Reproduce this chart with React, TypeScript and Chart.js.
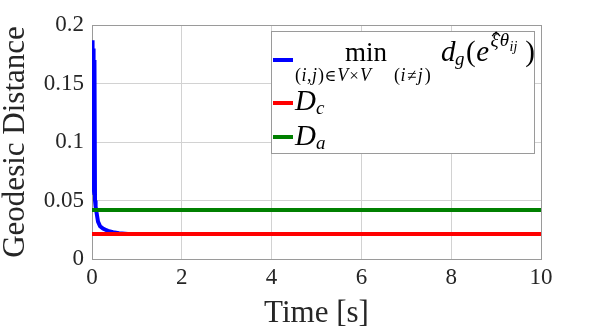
import React, { useEffect, useRef } from "react";
import { Chart, registerables } from "chart.js";

Chart.register(...registerables);

// ---- data ----
const blueTimes = [0, 0.005, 0.01, 0.015, 0.02, 0.025, 0.03, 0.035, 0.04, 0.045, 0.05, 0.055, 0.06, 0.067, 0.08, 0.1, 0.134, 0.18, 0.245, 0.3, 0.356, 0.47, 0.6, 0.8, 10];
const blueValues = [0.187, 0.066, 0.186, 0.065, 0.185, 0.068, 0.18, 0.062, 0.172, 0.058, 0.17, 0.055, 0.168, 0.05, 0.045, 0.04, 0.032, 0.028, 0.026, 0.025, 0.024, 0.023, 0.022, 0.0213, 0.0213];
const dcTimes = [0, 10];
const dcValues = [0.0213, 0.0213];
const daTimes = [0, 10];
const daValues = [0.0418, 0.0418];

const xTickValues = [0, 2, 4, 6, 8, 10];
const xTickLabels = ["0", "2", "4", "6", "8", "10"];
const yTickValues = [0, 0.05, 0.1, 0.15, 0.2];
const yTickLabels = ["0", "0.05", "0.1", "0.15", "0.2"];
const xTitle = "Time [s]";
const yTitle = "Geodesic Distance";

const SERIF = '"Liberation Serif", "DejaVu Serif", serif';
const BLUE = "#0000ff";
const RED = "#ff0000";
const GREEN = "#008000";

type Run = { t: string; size: number; it?: boolean; gap?: number; dy?: number };

function flow(ctx: CanvasRenderingContext2D, x: number, y: number, runs: Run[]) {
  for (const r of runs) {
    x += r.gap || 0;
    ctx.font = `${r.it ? "italic " : ""}${r.size}px ${SERIF}`;
    ctx.fillText(r.t, x, y + (r.dy || 0));
    x += ctx.measureText(r.t).width;
  }
  return x;
}

const boxPlugin = {
  id: "boxPlugin",
  beforeDatasetsDraw(chart: any) {
    const { ctx, chartArea: a } = chart;
    ctx.save();
    ctx.strokeStyle = "#9a9a9a";
    ctx.lineWidth = 1;
    ctx.strokeRect(Math.round(a.left) + 0.5, Math.round(a.top) + 0.5, Math.round(a.right - a.left), Math.round(a.bottom - a.top));
    ctx.restore();
  },
};

const legendPlugin = {
  id: "mathLegend",
  afterDatasetsDraw(chart: any) {
    const ctx: CanvasRenderingContext2D = chart.ctx;
    ctx.save();
    const bx = 271, by = 31, bw = 263, bh = 122;
    ctx.fillStyle = "#ffffff";
    ctx.fillRect(bx, by, bw, bh);
    ctx.strokeStyle = "#9a9a9a";
    ctx.lineWidth = 1;
    ctx.strokeRect(bx + 0.5, by + 0.5, bw, bh);

    const samples: [string, number][] = [[BLUE, 60], [RED, 103], [GREEN, 137]];
    ctx.lineWidth = 4;
    for (const [c, y] of samples) {
      ctx.strokeStyle = c;
      ctx.beginPath();
      ctx.moveTo(273, y);
      ctx.lineTo(293, y);
      ctx.stroke();
    }

    ctx.fillStyle = "#000000";
    ctx.textBaseline = "alphabetic";
    ctx.textAlign = "left";

    // "min"
    ctx.save();
    ctx.textAlign = "center";
    ctx.font = `27px ${SERIF}`;
    ctx.fillText("min", 366, 61);
    ctx.restore();

    // subscript of min: (i,j)∈V×V (i≠j)
    const sb = 81;
    flow(ctx, 295, sb, [
      { t: "(", size: 18 },
      { t: "i", size: 18, it: true, gap: 0.5 },
      { t: ",", size: 18, gap: 0.5 },
      { t: "j", size: 18, it: true, gap: 0.5 },
      { t: ")", size: 18, gap: 1 },
      { t: "∈", size: 16, gap: 0.5 },
      { t: "V", size: 18, it: true, gap: 1 },
      { t: "×", size: 17, gap: 1 },
      { t: "V", size: 18, it: true, gap: 1 },
    ]);
    flow(ctx, 394, sb, [
      { t: "(", size: 18 },
      { t: "i", size: 18, it: true, gap: 0.5 },
      { t: "≠", size: 17, gap: 1.5 },
      { t: "j", size: 18, it: true, gap: 1.5 },
      { t: ")", size: 18, gap: 2 },
    ]);

    // d_g(e^{xi-hat theta_ij})
    const mb = 61;
    const x0 = flow(ctx, 441, mb, [
      { t: "d", size: 29, it: true },
      { t: "g", size: 19, it: true, dy: 4, gap: -0.5 },
      { t: "(", size: 29, gap: 1.5 },
      { t: "e", size: 29, it: true, gap: 0.5 },
    ]);
    ctx.font = `italic 19px ${SERIF}`;
    const xiX = x0 + 1.5;
    const xiW = ctx.measureText("ξ").width;
    const x1 = flow(ctx, xiX, mb - 15, [
      { t: "ξ", size: 19, it: true },
      { t: "θ", size: 19, it: true, gap: 1 },
      { t: "ij", size: 14, it: true, dy: 5, gap: 0.5 },
    ]);
    flow(ctx, Math.max(x1 + 8, 520), mb, [{ t: ")", size: 29 }]);
    // hat over xi
    const hc = xiX + xiW / 2 + 1.5;
    ctx.strokeStyle = "#000";
    ctx.lineWidth = 1.2;
    ctx.beginPath();
    ctx.moveTo(hc - 4, 36);
    ctx.lineTo(hc, 32);
    ctx.lineTo(hc + 4, 36);
    ctx.stroke();

    // D_c, D_a
    flow(ctx, 295, 110, [
      { t: "D", size: 29, it: true },
      { t: "c", size: 19, it: true, dy: 4 },
    ]);
    flow(ctx, 295, 145, [
      { t: "D", size: 29, it: true },
      { t: "a", size: 19, it: true, dy: 4 },
    ]);
    ctx.restore();
  },
};

export default function App() {
  const canvasRef = useRef<HTMLCanvasElement | null>(null);

  useEffect(() => {
    document.body.style.margin = "0";
    const canvas = canvasRef.current;
    if (!canvas) return;
    const mk = (ts: number[], vs: number[]) => ts.map((t, i) => ({ x: t, y: vs[i] }));
    const chart = new Chart(canvas, {
      type: "line",
      data: {
        datasets: [
          {
            label: "min d_g",
            data: mk(blueTimes, blueValues),
            borderColor: BLUE,
            borderWidth: 4,
            pointRadius: 0,
            tension: 0,
            order: 3,
          },
          {
            label: "D_c",
            data: mk(dcTimes, dcValues),
            borderColor: RED,
            borderWidth: 4,
            pointRadius: 0,
            order: 2,
          },
          {
            label: "D_a",
            data: mk(daTimes, daValues),
            borderColor: GREEN,
            borderWidth: 4,
            pointRadius: 0,
            order: 1,
          },
        ],
      },
      options: {
        animation: false,
        responsive: false,
        devicePixelRatio: 1,
        layout: { padding: { top: 25, right: 57, left: 0, bottom: 0 } },
        plugins: { legend: { display: false }, tooltip: { enabled: false } },
        scales: {
          x: {
            type: "linear",
            min: 0,
            max: 10,
            afterBuildTicks: (s: any) => {
              s.ticks = xTickValues.map((value) => ({ value }));
            },
            afterFit: (s: any) => {
              s.height = 74;
            },
            ticks: {
              callback: (_v: any, i: number) => xTickLabels[i],
              font: { family: SERIF, size: 23 },
              color: "#262626",
              padding: 5,
              maxRotation: 0,
            },
            grid: { color: "#d2d2d2", lineWidth: 1, drawTicks: false },
            border: { display: true, color: "#9a9a9a", width: 1 },
            title: {
              display: true,
              text: xTitle,
              font: { family: SERIF, size: 31 },
              color: "#262626",
              padding: { top: 0, bottom: 1 },
            },
          },
          y: {
            type: "linear",
            min: 0,
            max: 0.2,
            afterBuildTicks: (s: any) => {
              s.ticks = yTickValues.map((value) => ({ value }));
            },
            afterFit: (s: any) => {
              s.width = 92;
            },
            ticks: {
              callback: (_v: any, i: number) => yTickLabels[i],
              font: { family: SERIF, size: 23 },
              color: "#262626",
              padding: 8,
            },
            grid: { color: "#d2d2d2", lineWidth: 1, drawTicks: false },
            border: { display: true, color: "#9a9a9a", width: 1 },
            title: {
              display: true,
              text: yTitle,
              font: { family: SERIF, size: 31 },
              color: "#262626",
              padding: { top: -3, bottom: 0 },
            },
          },
        },
      },
      plugins: [boxPlugin, legendPlugin],
    } as any);
    return () => chart.destroy();
  }, []);

  return (
    <div style={{ position: "absolute", left: 0, top: 0, width: 598, height: 333, background: "#fff" }}>
      <canvas ref={canvasRef} width={598} height={333} style={{ width: 598, height: 333, display: "block" }} />
    </div>
  );
}
